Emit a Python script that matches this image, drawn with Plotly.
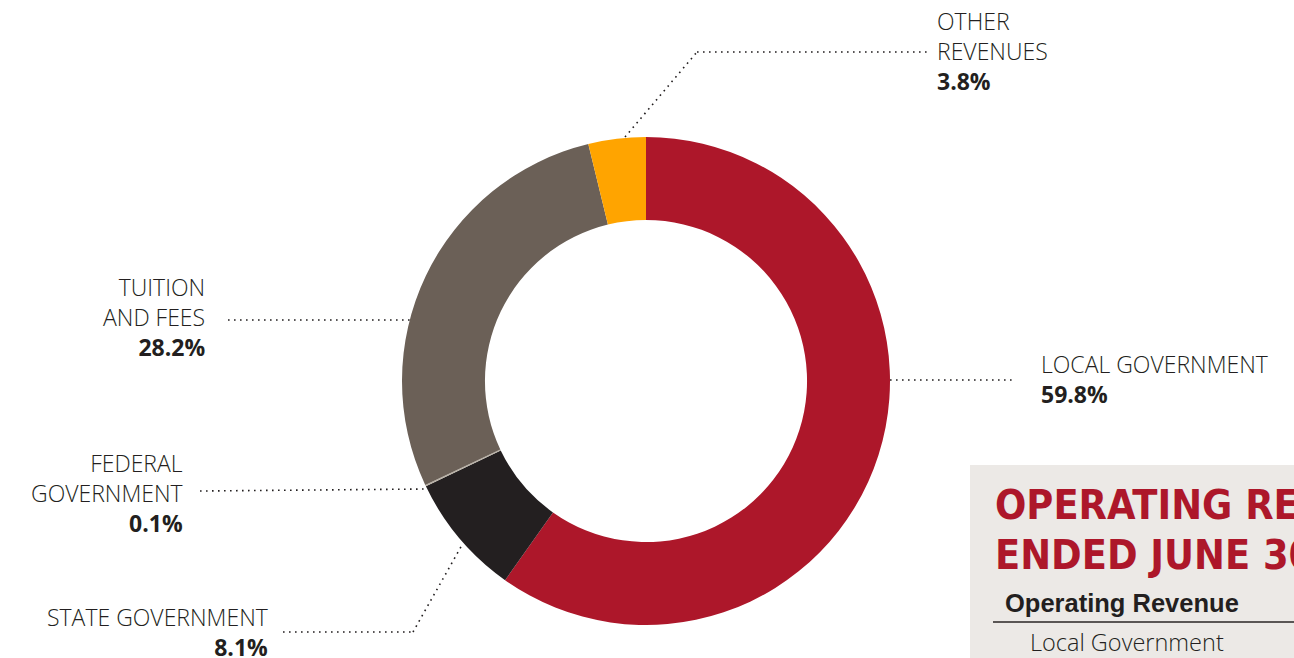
import plotly.graph_objects as go

# ---- data ----
categories = ["LOCAL GOVERNMENT", "STATE GOVERNMENT", "FEDERAL GOVERNMENT", "TUITION AND FEES", "OTHER REVENUES"]
values = [59.8, 8.1, 0.1, 28.2, 3.8]
colors = ["#AD172A", "#231F20", "#B9B1A5", "#6B6057", "#FFA400"]
label_lines = [["LOCAL GOVERNMENT"], ["STATE GOVERNMENT"], ["FEDERAL", "GOVERNMENT"],
               ["TUITION", "AND FEES"], ["OTHER", "REVENUES"]]
pct_labels = ["59.8%", "8.1%", "0.1%", "28.2%", "3.8%"]

W, H = 1294, 658
CX, CY, R = 646, 381, 244


def px(x):
    return x / W


def py(y):
    return 1 - y / H


fig = go.Figure()
fig.add_trace(go.Pie(
    labels=categories, values=values, sort=False, direction="clockwise", rotation=0,
    hole=0.66, marker=dict(colors=colors, line=dict(width=0)),
    textinfo="none", hoverinfo="label+value", showlegend=False,
    domain=dict(x=[px(CX - R), px(CX + R)], y=[py(CY + R), py(CY - R)]),
))

# label layout: text anchor x, alignment, vertical centre of the label block, leader path (px)
layout_spec = [
    dict(x=1039, anchor="left", yc=378.5, path=[(890, 380), (1013, 380)]),
    dict(x=270, anchor="right", yc=631.5, path=[(283, 632), (413, 632), (462, 545)]),
    dict(x=185, anchor="right", yc=493, path=[(200, 491), (428, 489)]),
    dict(x=207, anchor="right", yc=317, path=[(228, 320), (413, 320)]),
    dict(x=935, anchor="left", yc=51, path=[(625, 137), (697, 52), (928, 52)]),
]

LABEL_FONT = dict(family="'Open Sans', Roboto, sans-serif", size=23, color="#231F20", weight=300)

annotations = []
shapes = []
for i, spec in enumerate(layout_spec):
    text = "<br>".join(label_lines[i] + ["<b>" + pct_labels[i] + "</b>"])
    annotations.append(dict(
        x=px(spec["x"]), y=py(spec["yc"]), xref="paper", yref="paper", text=text, showarrow=False,
        xanchor=spec["anchor"], yanchor="middle", align=spec["anchor"], font=LABEL_FONT,
    ))
    path = spec["path"]
    for (x0, y0), (x1, y1) in zip(path[:-1], path[1:]):
        shapes.append(dict(type="line", xref="paper", yref="paper",
                           x0=px(x0), y0=py(y0), x1=px(x1), y1=py(y1),
                           line=dict(color="#231F20", width=1.6, dash="1.6px,4.4px")))

# table panel (partially visible)
shapes.append(dict(type="rect", xref="paper", yref="paper", x0=px(970), x1=1.05, y0=-0.05, y1=py(465),
                   fillcolor="#ECE9E6", line=dict(width=0), layer="below"))
shapes.append(dict(type="line", xref="paper", yref="paper", x0=px(993), x1=1.05, y0=py(622), y1=py(622),
                   line=dict(color="#5A5655", width=2)))

TITLE = dict(family="'Liberation Sans Narrow', 'DejaVu Sans Condensed', sans-serif", size=41,
             color="#AD172A", weight=700)
annotations += [
    dict(x=px(993), y=py(505), xref="paper", yref="paper", text="<b>OPERATING REVENUES</b>",
         showarrow=False, xanchor="left", yanchor="middle", font=TITLE),
    dict(x=px(993), y=py(555), xref="paper", yref="paper", text="<b>ENDED JUNE 30,</b>",
         showarrow=False, xanchor="left", yanchor="middle", font=TITLE),
    dict(x=px(1003), y=py(603), xref="paper", yref="paper", text="<b>Operating Revenue</b>",
         showarrow=False, xanchor="left", yanchor="middle",
         font=dict(family="'Liberation Sans', sans-serif", size=25.5, color="#231F20")),
    dict(x=px(1028), y=py(642), xref="paper", yref="paper", text="Local Government",
         showarrow=False, xanchor="left", yanchor="middle",
         font=dict(family="'Open Sans', Roboto, sans-serif", size=23.5, color="#231F20", weight=300)),
]

fig.update_layout(
    width=W, height=H, margin=dict(l=0, r=0, t=0, b=0),
    paper_bgcolor="white", plot_bgcolor="white",
    annotations=annotations, shapes=shapes,
)
fig.write_html(
    "out.html",
    config={"displayModeBar": False},
    post_script="document.body.style.margin='0';document.body.style.overflow='hidden';"
                "document.documentElement.style.overflow='hidden';",
)
